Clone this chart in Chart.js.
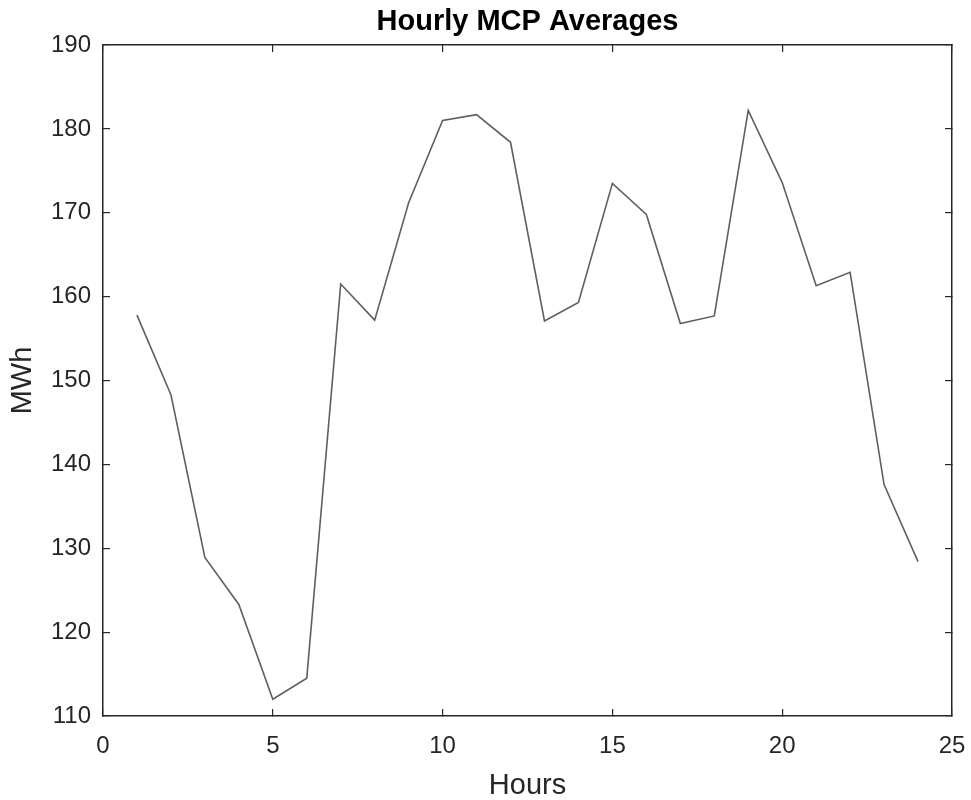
<!DOCTYPE html>
<html>
<head>
<meta charset="utf-8">
<script src="https://cdn.jsdelivr.net/npm/chart.js@4"></script>
<style>
  html, body { margin: 0; padding: 0; background: #fff; }
  #wrap { width: 971px; height: 800px; }
</style>
</head>
<body>
<div id="wrap"><canvas id="cchart" width="971" height="800"></canvas></div>
<script>
// hourly averages
const hours = [1, 2, 3, 4, 5, 6, 7, 8, 9, 10, 11, 12, 13, 14, 15, 16, 17, 18, 19, 20, 21, 22, 23, 24];
const mcp = [157.8, 148.3, 128.9, 123.3, 112.0, 114.5, 161.5, 157.2, 171.2, 181.0, 181.7, 178.4,
             157.1, 159.3, 173.5, 169.8, 156.8, 157.7, 182.2, 173.6, 161.3, 162.9, 137.6, 128.4];
const xTicks = [0, 5, 10, 15, 20, 25];
const yTicks = [110, 120, 130, 140, 150, 160, 170, 180, 190];

const axisColor = '#262626';
const fontFamily = '"Liberation Sans", Arial, Helvetica, sans-serif';

/* 
    Shared look for the boxed axes, ticks point inward
*/
function boxAxis(position, min, max, step, showLabels) {
    return {
        type: 'linear',
        position: position,
        min: min,
        max: max,
        border: { display: true, color: axisColor, width: 1.5 },
        grid: { drawOnChartArea: false, drawTicks: true, tickLength: -7, color: axisColor, lineWidth: 1.2 },
        ticks: {
            display: showLabels,
            stepSize: step,
            color: axisColor,
            font: { family: fontFamily, size: 24, lineHeight: 1 },
            padding: 19
        }
    };
}

let xAxis = boxAxis('bottom', xTicks[0], xTicks[xTicks.length - 1], 5, true);
xAxis.ticks.padding = 25;
xAxis.title = { display: true, text: 'Hours', color: axisColor,
    font: { family: fontFamily, size: 29, lineHeight: 1 }, padding: { top: 0, bottom: 0 } };
xAxis.afterFit = function (scale) {
    scale.height = 84;
    // keep the "25" label from pushing the plot area in
    scale.paddingLeft = 0;
    scale.paddingRight = 0;
};

let yAxis = boxAxis('left', yTicks[0], yTicks[yTicks.length - 1], 10, true);
yAxis.title = { display: true, text: 'MWh', color: axisColor,
    font: { family: fontFamily, size: 29, lineHeight: 1 }, padding: { top: 8, bottom: 0 } };
yAxis.afterFit = function (scale) {
    scale.width = 103;
    scale.paddingTop = 0;
    scale.paddingBottom = 0;
};

let xTop = boxAxis('top', xTicks[0], xTicks[xTicks.length - 1], 5, false);
xTop.afterFit = function (scale) { scale.height = 0; scale.paddingLeft = 0; scale.paddingRight = 0; };

let yRight = boxAxis('right', yTicks[0], yTicks[yTicks.length - 1], 10, false);
yRight.afterFit = function (scale) { scale.width = 0; scale.paddingTop = 0; scale.paddingBottom = 0; };

let points = hours.map((h, i) => ({ x: h, y: mcp[i] }));

let ctx = document.getElementById('cchart').getContext('2d');
new Chart(ctx, {
    type: 'line',
    data: {
        datasets: [{
            label: 'MCP',
            data: points,
            xAxisID: 'x',
            yAxisID: 'y',
            borderColor: 'rgb(95, 95, 95)',
            borderWidth: 1.6,
            pointRadius: 0,
            fill: false,
            tension: 0
        }]
    },
    options: {
        responsive: false,
        animation: false,
        layout: { padding: { left: 0, right: 19, top: 0, bottom: 0 } },
        plugins: {
            legend: { display: false },
            tooltip: { enabled: false },
            title: {
                display: true,
                text: 'Hourly MCP Averages',
                fullSize: false,
                color: '#000',
                font: { family: fontFamily, size: 29, weight: 'bold', lineHeight: 1 },
                padding: { top: 7, bottom: 9 }
            }
        },
        scales: {
            x: xAxis,
            y: yAxis,
            x2: xTop,
            y2: yRight
        }
    }
});
</script>
</body>
</html>
